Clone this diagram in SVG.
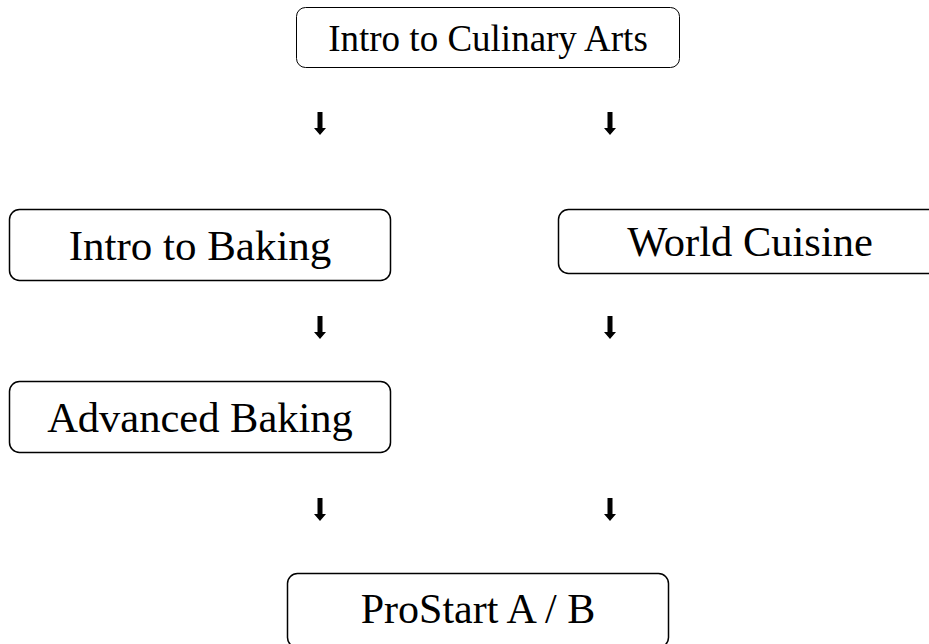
<svg xmlns="http://www.w3.org/2000/svg" width="929" height="644" viewBox="0 0 929 644">
<defs>
<style>
.box{fill:#fff;stroke:#000;stroke-width:1.5}
.t{font-family:"Liberation Serif","Times New Roman",serif;fill:#000;text-anchor:middle}
</style>
<path id="arr" d="M-2.5,-12 H2.5 V4 H6 L0,11 L-6,4 H-2.5 Z" fill="#000"/>
</defs>
<rect width="929" height="644" fill="#fff"/>
<g id="n1"><rect class="box" x="296.5" y="7.5" width="383" height="60" rx="9" style="stroke-width:1"/><text class="t" x="488" y="51" font-size="37">Intro to Culinary Arts</text></g>
<g id="n2"><rect class="box" x="9.5" y="209.5" width="381" height="71" rx="10"/><text class="t" x="200" y="260" font-size="43">Intro to Baking</text></g>
<g id="n3"><rect class="box" x="558.5" y="209.5" width="384" height="64" rx="10"/><text class="t" x="750" y="256" font-size="42.5">World Cuisine</text></g>
<g id="n4"><rect class="box" x="9.5" y="381.5" width="381" height="71" rx="10"/><text class="t" x="200" y="432" font-size="42.5">Advanced Baking</text></g>
<g id="n5"><rect class="box" x="287.5" y="573.5" width="381" height="74" rx="10"/><text class="t" x="478" y="623" font-size="42">ProStart A / B</text></g>
<g id="connectors">
<use href="#arr" x="320" y="124"/>
<use href="#arr" x="610" y="124"/>
<use href="#arr" x="320" y="328"/>
<use href="#arr" x="610" y="328"/>
<use href="#arr" x="320" y="510"/>
<use href="#arr" x="610" y="510"/>
</g>
</svg>
